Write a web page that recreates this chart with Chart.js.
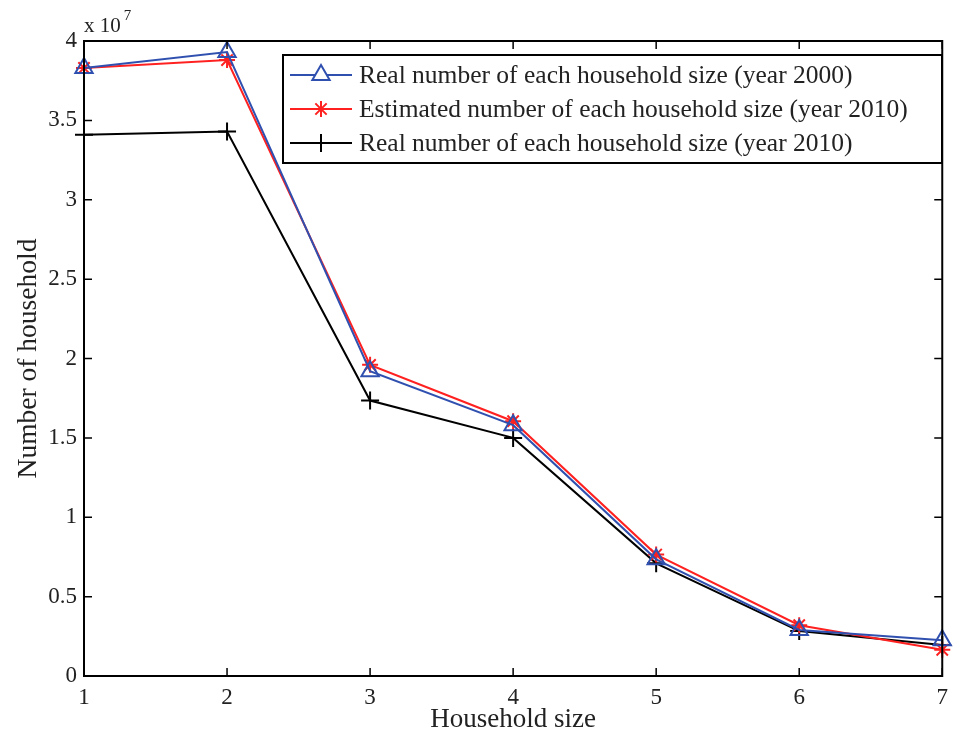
<!DOCTYPE html>
<html>
<head>
<meta charset="utf-8">
<script src="https://cdn.jsdelivr.net/npm/chart.js@4/dist/chart.umd.min.js"></script>
<style>
  html, body { margin: 0; padding: 0; background: #ffffff; }
  canvas { display: block; }
</style>
</head>
<body>
<canvas id="chart" width="956" height="736"></canvas>
<script>
// Household size categories
const householdSizes = [1, 2, 3, 4, 5, 6, 7];

// Number of households per size
const real2000 = [38300000, 39300000, 19200000, 15800000, 7350000, 2900000, 2250000];
const estimated2010 = [38300000, 38800000, 19600000, 16050000, 7650000, 3200000, 1650000];
const real2010 = [34100000, 34300000, 17350000, 15000000, 7100000, 2830000, 1950000];

const seriesNames = [
  'Real number of each household size (year 2000)',
  'Estimated number of each household size (year 2010)',
  'Real number of each household size (year 2010)'
];

const yTickValues = [0, 0.5, 1, 1.5, 2, 2.5, 3, 3.5, 4];
const yExponent = 7;

const SERIF = '"Liberation Serif", "Times New Roman", serif';
const TEXT = '#222222';
const BLUE = '#3050b0';
const RED = '#ff2020';
const BLACK = '#000000';

function toPoints(values) {
  return householdSizes.map((s, i) => ({ x: s, y: values[i] }));
}

// Frame, inward ticks, exponent label and legend box
const framePlugin = {
  id: 'frame',
  afterDraw(chart) {
    const { ctx, chartArea: a, scales } = chart;
    const xs = scales.x, ys = scales.y;
    ctx.save();
    ctx.strokeStyle = '#000';
    ctx.lineWidth = 2;
    ctx.strokeRect(a.left, a.top, a.right - a.left, a.bottom - a.top);
    ctx.lineWidth = 1.5;
    const tl = 8;
    ctx.beginPath();
    householdSizes.forEach(v => {
      const px = xs.getPixelForValue(v);
      ctx.moveTo(px, a.bottom); ctx.lineTo(px, a.bottom - tl);
      ctx.moveTo(px, a.top); ctx.lineTo(px, a.top + tl);
    });
    yTickValues.forEach(v => {
      const py = ys.getPixelForValue(v * Math.pow(10, yExponent));
      ctx.moveTo(a.left, py); ctx.lineTo(a.left + tl, py);
      ctx.moveTo(a.right, py); ctx.lineTo(a.right - tl, py);
    });
    ctx.stroke();

    // exponent label
    ctx.fillStyle = TEXT;
    ctx.textBaseline = 'alphabetic';
    ctx.textAlign = 'left';
    ctx.font = '21px ' + SERIF;
    ctx.fillText('x 10', a.left, 32);
    const w = ctx.measureText('x 10').width;
    ctx.font = '15px ' + SERIF;
    ctx.fillText(String(yExponent), a.left + w + 3, 20);

    // legend
    const lx = 283, ly = 55, lw = 659, lh = 108;
    ctx.fillStyle = '#fff';
    ctx.fillRect(lx, ly, lw, lh);
    ctx.strokeStyle = '#000';
    ctx.lineWidth = 2;
    ctx.strokeRect(lx, ly, lw, lh);
    const rows = [75, 109, 143];
    chart.data.datasets.forEach((ds, i) => {
      const y = rows[i];
      ctx.strokeStyle = ds.borderColor;
      ctx.lineWidth = 2;
      ctx.beginPath();
      ctx.moveTo(290, y); ctx.lineTo(352, y);
      ctx.stroke();
      Chart.helpers.drawPoint(ctx, {
        pointStyle: ds.pointStyle,
        radius: ds.pointRadius,
        borderWidth: 2,
        rotation: 0
      }, 321, y);
      ctx.fillStyle = TEXT;
      ctx.font = '25.5px ' + SERIF;
      ctx.textBaseline = 'middle';
      ctx.fillText(ds.label, 359, y + 1);
    });
    ctx.restore();
  }
};

new Chart(document.getElementById('chart'), {
  type: 'line',
  data: {
    datasets: [
      {
        label: seriesNames[0],
        data: toPoints(real2000),
        borderColor: BLUE,
        backgroundColor: 'rgba(0,0,0,0)',
        pointStyle: 'triangle',
        pointRadius: 10,
        pointBorderWidth: 2,
        borderWidth: 2
      },
      {
        label: seriesNames[1],
        data: toPoints(estimated2010),
        borderColor: RED,
        backgroundColor: 'rgba(0,0,0,0)',
        pointStyle: 'star',
        pointRadius: 8,
        pointBorderWidth: 2,
        borderWidth: 2
      },
      {
        label: seriesNames[2],
        data: toPoints(real2010),
        borderColor: BLACK,
        backgroundColor: 'rgba(0,0,0,0)',
        pointStyle: 'cross',
        pointRadius: 9,
        pointBorderWidth: 2,
        borderWidth: 2
      }
    ]
  },
  options: {
    responsive: false,
    animation: false,
    devicePixelRatio: 1,
    clip: false,
    layout: { padding: { top: 41, right: 8, left: 0, bottom: 0 } },
    plugins: { legend: { display: false }, tooltip: { enabled: false } },
    elements: { line: { tension: 0 } },
    scales: {
      x: {
        type: 'linear',
        min: 1,
        max: 7,
        afterBuildTicks(scale) { scale.ticks = householdSizes.map(v => ({ value: v })); },
        afterFit(scale) { scale.height = 60; },
        grid: { display: false, drawTicks: false },
        border: { display: false },
        ticks: {
          padding: 8,
          color: TEXT,
          font: { family: SERIF, size: 23 },
          callback: v => String(v)
        },
        title: {
          display: true,
          text: 'Household size',
          color: TEXT,
          font: { family: SERIF, size: 27 },
          padding: { top: 0, bottom: 0 }
        }
      },
      y: {
        type: 'linear',
        min: 0,
        max: 4 * Math.pow(10, yExponent),
        afterBuildTicks(scale) { scale.ticks = yTickValues.map(v => ({ value: v * Math.pow(10, yExponent) })); },
        afterFit(scale) { scale.width = 84; },
        grid: { display: false, drawTicks: false },
        border: { display: false },
        ticks: {
          padding: 7,
          color: TEXT,
          font: { family: SERIF, size: 23 },
          callback: v => String(v / Math.pow(10, yExponent))
        },
        title: {
          display: true,
          text: 'Number of household',
          color: TEXT,
          font: { family: SERIF, size: 27.5 },
          padding: { top: 12, bottom: 0 }
        }
      }
    }
  },
  plugins: [framePlugin]
});
</script>
</body>
</html>
